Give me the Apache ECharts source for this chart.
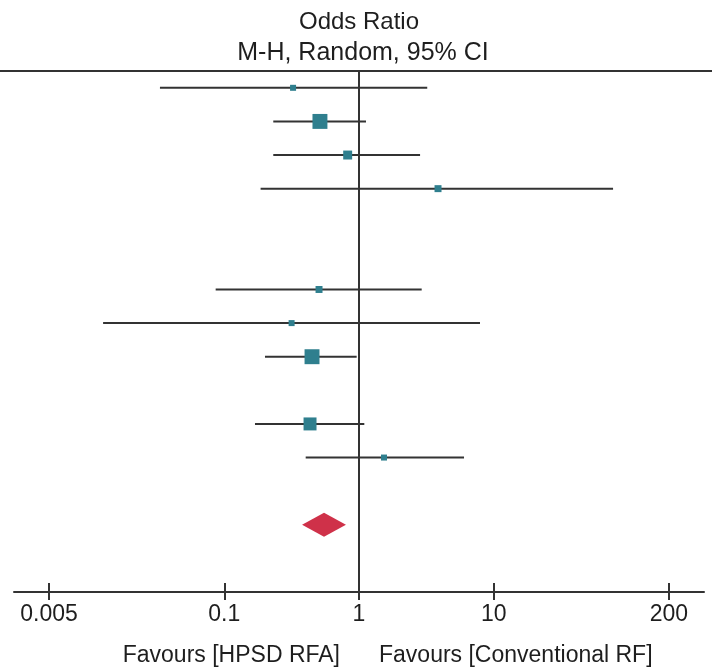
<!DOCTYPE html>
<html>
<head>
<meta charset="utf-8">
<script src="https://cdn.jsdelivr.net/npm/echarts@6/dist/echarts.min.js"></script>
<style>
html,body{margin:0;padding:0;background:#fff;}
#chart{width:712px;height:671px;}
</style>
</head>
<body>
<div id="chart"></div>
<script>
// ---- data ----
const studyRow   = [0, 1, 2, 3, 6, 7, 8, 10, 11];
const oddsRatio  = [0.324, 0.513, 0.824, 3.86, 0.505, 0.316, 0.448, 0.433, 1.533];
const ciLower    = [0.0333, 0.231, 0.231, 0.186, 0.0863, 0.0126, 0.2005, 0.169, 0.402];
const ciUpper    = [3.21, 1.127, 2.84, 76.9, 2.92, 7.91, 0.961, 1.095, 6.02];
const weightPct  = [4.0, 24.8, 8.9, 5.4, 5.4, 4.0, 24.8, 18.7, 4.0];
const pooledRow  = [13];
const pooledOR   = [0.55];
const pooledLow  = [0.378];
const pooledHigh = [0.80];
const tickValues = [0.005, 0.1, 1, 10, 200];
const tickLabels = ['0.005', '0.1', '1', '10', '200'];
const titleLines = ['Odds Ratio', 'M-H, Random, 95% CI'];
const favourLeft = 'Favours [HPSD RFA]';
const favourRight = 'Favours [Conventional RF]';

// ---- build ----
const FONT = '"Liberation Sans", Arial, Helvetica, sans-serif';
const INK = '#1e1e1e';
const LINE = '#333333';
const axisMin = Math.pow(10, -2.561);
const axisMax = Math.pow(10, 2.561);

const ciData = studyRow.map((r, i) => [ciLower[i], ciUpper[i], r]);
const pointData = studyRow.map((r, i) => [oddsRatio[i], r, weightPct[i]]);
const diamondData = pooledRow.map((r, i) => [pooledLow[i], pooledOR[i], pooledHigh[i], r]);

function fmtTick(v) {
  let best = 0, bd = Infinity;
  tickValues.forEach((t, i) => {
    const d = Math.abs(Math.log10(t) - Math.log10(v));
    if (d < bd) { bd = d; best = i; }
  });
  return tickLabels[best];
}

const chart = echarts.init(document.getElementById('chart'), null, {renderer: 'canvas'});
chart.setOption({
  animation: false,
  backgroundColor: '#fff',
  grid: {left: 14, right: 8, top: 71, bottom: 79, containLabel: false, outerBoundsMode: 'none'},
  xAxis: [{
    type: 'log', logBase: 10, min: axisMin, max: axisMax, position: 'bottom',
    axisLine: {show: true, onZero: false, lineStyle: {color: LINE, width: 2}},
    axisTick: {show: true, inside: false, length: 8, customValues: tickValues, lineStyle: {color: LINE, width: 2}},
    axisLabel: {show: true, customValues: tickValues, formatter: fmtTick, margin: 11,
      color: INK, fontSize: 23, fontFamily: FONT},
    splitLine: {show: false}, minorTick: {show: false}
  }, {
    type: 'log', logBase: 10, min: axisMin, max: axisMax, position: 'bottom',
    axisLine: {show: false, onZero: false},
    axisTick: {show: true, inside: true, length: 9, customValues: tickValues, lineStyle: {color: LINE, width: 2}},
    axisLabel: {show: false},
    splitLine: {show: false}
  }],
  yAxis: {
    type: 'value', inverse: true, min: -0.5, max: 15, show: false,
    splitLine: {show: false}
  },
  graphic: [
    {type: 'line', shape: {x1: 0, y1: 71, x2: 712, y2: 71}, style: {stroke: LINE, lineWidth: 2}, z: 10},
    {type: 'text', x: 359, y: 22, style: {text: titleLines[0], fill: INK, font: '24px ' + FONT, textAlign: 'center', textVerticalAlign: 'middle'}},
    {type: 'text', x: 363, y: 53, style: {text: titleLines[1], fill: INK, font: '25px ' + FONT, textAlign: 'center', textVerticalAlign: 'middle'}},
    {type: 'text', x: 340, y: 656, style: {text: favourLeft, fill: INK, font: '23px ' + FONT, textAlign: 'right', textVerticalAlign: 'middle'}},
    {type: 'text', x: 379, y: 656, style: {text: favourRight, fill: INK, font: '23px ' + FONT, textAlign: 'left', textVerticalAlign: 'middle'}}
  ],
  series: [{
    type: 'custom',
    xAxisIndex: 0,
    data: ciData,
    encode: {x: [0, 1], y: 2},
    renderItem: function (params, api) {
      const a = api.coord([api.value(0), api.value(2)]);
      const b = api.coord([api.value(1), api.value(2)]);
      return {type: 'line', shape: {x1: a[0], y1: a[1], x2: b[0], y2: b[1]},
        style: {stroke: LINE, lineWidth: 2}};
    },
    z: 3
  }, {
    type: 'scatter',
    xAxisIndex: 0,
    data: pointData,
    symbol: 'rect',
    symbolSize: function (v) { return 3.0 * Math.sqrt(v[2]); },
    itemStyle: {color: '#2f7f8e', opacity: 1},
    z: 4,
    markLine: {
      silent: true, symbol: ['none', 'none'], label: {show: false},
      lineStyle: {color: LINE, width: 2, type: 'solid'},
      data: [{xAxis: 1}]
    }
  }, {
    type: 'custom',
    xAxisIndex: 0,
    data: diamondData,
    encode: {x: [0, 1, 2], y: 3},
    renderItem: function (params, api) {
      const y = api.value(3);
      const l = api.coord([api.value(0), y]);
      const r = api.coord([api.value(2), y]);
      const t = api.coord([api.value(1), y - 0.36]);
      const b = api.coord([api.value(1), y + 0.36]);
      return {type: 'polygon', shape: {points: [l, t, r, b]},
        style: {fill: '#cf3149', stroke: null}};
    },
    z: 4
  }]
});
</script>
</body>
</html>
